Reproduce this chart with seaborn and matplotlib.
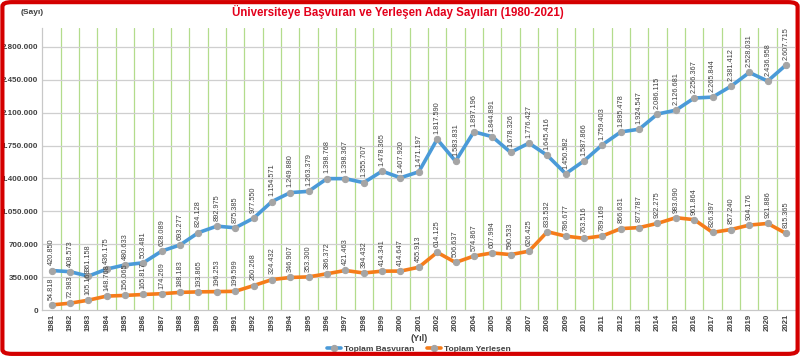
import pandas as pd
import numpy as np
import matplotlib
matplotlib.use('Agg')
import matplotlib.pyplot as plt
import seaborn as sns
from matplotlib.patches import FancyBboxPatch

# Yillar ve aday sayilari
yillar = list(range(1981, 2022))
basvuran = [420850, 408573, 361158, 436175, 480633, 503481, 628089, 693277, 824128, 892975,
            875385, 977550, 1154571, 1249880, 1263379, 1398768, 1398367, 1355707, 1478365, 1407920,
            1471197, 1817590, 1583831, 1897196, 1844891, 1678326, 1776427, 1645416, 1450582, 1587866,
            1759403, 1895478, 1924547, 2086115, 2126681, 2256367, 2265844, 2381412, 2528031, 2436958,
            2607715]
yerlesen = [54818, 72983, 105169, 148768, 156065, 165817, 174269, 188183, 193865, 196253,
            199599, 260268, 324432, 346907, 353300, 386372, 421463, 394432, 414341, 414647,
            455913, 614125, 506637, 574867, 607994, 590533, 626425, 833532, 786677, 763516,
            789169, 866631, 877787, 922275, 983090, 961864, 826397, 857240, 904176, 921886,
            815365]
seri_adlari = ['Toplam Başvuran', 'Toplam Yerleşen']
renkler = ['#4a9ad8', '#f57c1a']
y_ticks = list(range(0, 2800001, 350000))

df = pd.DataFrame({'Yil': yillar * 2,
                   'Sayi': basvuran + yerlesen,
                   'Seri': [seri_adlari[0]] * len(yillar) + [seri_adlari[1]] * len(yillar)})

sns.set_style('white')
plt.rcParams['font.family'] = ['Liberation Sans Narrow', 'Liberation Sans', 'DejaVu Sans']

fig = plt.figure(figsize=(8, 3.56), dpi=100)
ax = fig.add_axes([0.053, 0.129, 0.941, 0.792])

# kategori sinirlarinda yesil cizgiler
for y in yillar[:-1]:
    ax.axvline(y + 0.5, color='#b3dc8c', lw=0.9, zorder=0)
for t in y_ticks[1:]:
    ax.axhline(t, color='#cfcfcf', lw=0.9, zorder=0)

for ad, renk in zip(seri_adlari, renkler):
    sns.lineplot(data=df[df['Seri'] == ad], x='Yil', y='Sayi', color=renk, lw=2.6,
                 marker='o', markersize=4.5, markerfacecolor='#a5a5a5', markeredgecolor='#a5a5a5',
                 label=ad, ax=ax, zorder=3)

def fmt(v):
    return f'{v:,}'.replace(',', '.')

for seri in [basvuran, yerlesen]:
    for x, v in zip(yillar, seri):
        ax.text(x, v + 55000, fmt(v), rotation=90, ha='center', va='bottom',
                fontsize=5.3, color='#404040', zorder=4)

ax.set_xlim(1980.5, 2021.5)
ax.set_ylim(0, 3000000)
ax.set_yticks(y_ticks)
ax.set_yticklabels([fmt(t) for t in y_ticks], fontsize=5.8, fontweight='bold', color='#404040')
ax.set_xticks(yillar)
ax.set_xticklabels([str(y) for y in yillar], rotation=90, fontsize=5.6, fontweight='bold', color='#404040')
ax.tick_params(axis='both', length=0, pad=3)
ax.set_xlabel('(Yıl)', fontsize=6.5, fontweight='bold', color='#404040', labelpad=2)
ax.set_ylabel('')
for s in ['top', 'right']:
    ax.spines[s].set_visible(False)
for s in ['left', 'bottom']:
    ax.spines[s].set_color('#c8c8c8')
    ax.spines[s].set_linewidth(0.9)

ax.legend(loc='center', bbox_to_anchor=(0.5, -0.138), ncol=2, frameon=False,
          prop={'size': 6, 'weight': 'bold'}, labelcolor='#404040',
          handlelength=1.7, columnspacing=1.6, handletextpad=0.3, borderpad=0)

fig.text(0.497, 0.966, 'Üniversiteye Başvuran ve Yerleşen Aday Sayıları (1980-2021)',
         ha='center', va='center', color='#e3001b', fontsize=8.3, fontweight='bold')
fig.text(0.026, 0.966, '(Sayı)', ha='left', va='center', color='#404040', fontsize=6, fontweight='bold')

# kirmizi cerceve
fig.patches.append(FancyBboxPatch((0.003, 0.006), 0.994, 0.988, boxstyle='round,pad=0,rounding_size=0.012',
                                  transform=fig.transFigure, fill=False, edgecolor='#d40000', lw=3))

fig.savefig('out.png', dpi=100)
